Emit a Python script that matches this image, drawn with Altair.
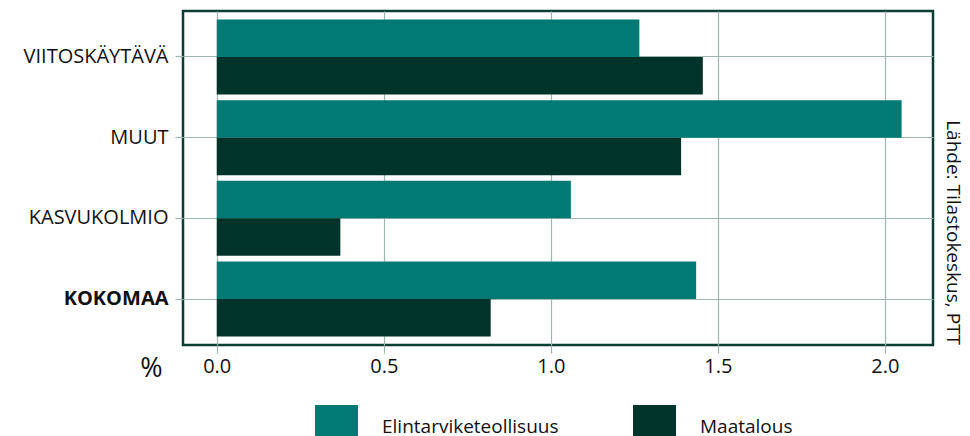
import altair as alt
import pandas as pd

regions = ["VIITOSKÄYTÄVÄ", "MUUT", "KASVUKOLMIO", "KOKOMAA"]
series_names = ["Elintarviketeollisuus", "Maatalous"]
elintarvike = [1.265, 2.05, 1.06, 1.435]
maatalous = [1.455, 1.39, 0.37, 0.82]
x_ticks = [0.0, 0.5, 1.0, 1.5, 2.0]
source_text = "Lähde: Tilastokeskus, PTT"
colors = ["#007a72", "#00332a"]

rows = []
for r, a, b in zip(regions, elintarvike, maatalous):
    rows.append({"region": r, "series": series_names[0], "value": a})
    rows.append({"region": r, "series": series_names[1], "value": b})
df = pd.DataFrame(rows)

FONT = "Open Sans"
GRID = "#9fb6af"

bars = alt.Chart(df).mark_bar().encode(
    x=alt.X("value:Q",
            scale=alt.Scale(domain=[-0.101, 2.144], nice=False, zero=False),
            axis=alt.Axis(values=x_ticks, format=".1f", title="%",
                          titleX=-32, titleY=23, titleFontSize=27,
                          titleFontWeight="normal", titleAlign="center",
                          titleBaseline="middle", labelPadding=3)),
    y=alt.Y("region:N", sort=regions,
            scale=alt.Scale(paddingInner=0.07, paddingOuter=0.105),
            axis=alt.Axis(title=None, labelPadding=7,
                          labelFontWeight={"condition": {"test": "datum.value == 'KOKOMAA'", "value": "bold"}, "value": "normal"})),
    yOffset=alt.YOffset("series:N", sort=series_names,
                        scale=alt.Scale(paddingInner=0, paddingOuter=0)),
    color=alt.Color("series:N", sort=series_names,
                    scale=alt.Scale(domain=series_names, range=colors),
                    legend=alt.Legend(title=None, orient="none", direction="horizontal",
                                      legendX=132, legendY=394,
                                      symbolType="square", symbolSize=1849,
                                      symbolStrokeWidth=0, symbolOpacity=1,
                                      labelFontSize=19, labelOffset=24, labelLimit=400,
                                      columnPadding=74)),
)

src = alt.Chart(pd.DataFrame({"t": [source_text]})).mark_text(
    angle=90, align="right", baseline="alphabetic", fontSize=19, font=FONT, color="#111111"
).encode(text="t:N", x=alt.value(764), y=alt.value(334))

chart = alt.layer(bars, src).properties(
    width=750, height=334,
    autosize=alt.AutoSizeParams(type="none"),
    padding={"left": 175, "top": 3, "right": 29, "bottom": 91},
).configure_view(
    stroke="#0b3d33", strokeWidth=2.5
).configure_axis(
    labelFont=FONT, titleFont=FONT, labelFontSize=20, labelColor="#111111",
    titleColor="#111111", grid=True, gridColor=GRID, gridWidth=1.2,
    tickColor=GRID, tickSize=8, tickWidth=1.2, domain=False,
).configure_legend(
    labelFont=FONT, labelColor="#111111"
)

chart.save("out.html", embed_options={"renderer": "svg", "actions": False})
